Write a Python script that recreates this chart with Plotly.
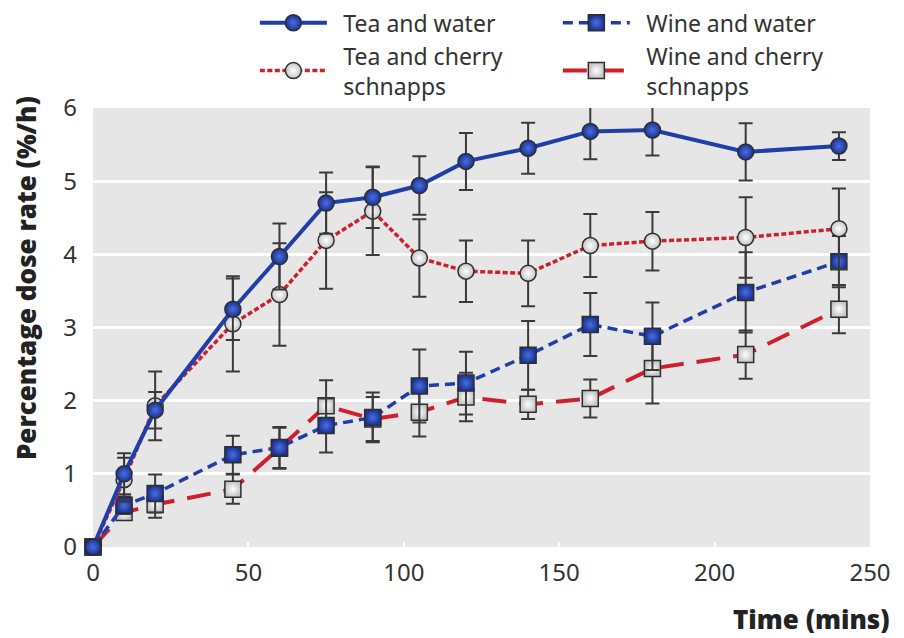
import plotly.graph_objects as go

time = [0, 10, 20, 45, 60, 75, 90, 105, 120, 140, 160, 180, 210, 240]

tea_water = [0, 1.00, 1.87, 3.25, 3.97, 4.70, 4.78, 4.94, 5.27, 5.45, 5.68, 5.70, 5.40, 5.48]
tea_water_err = [0, 0.28, 0.25, 0.42, 0.45, 0.42, 0.42, 0.40, 0.39, 0.35, 0.38, 0.35, 0.39, 0.19]

tea_cherry = [0, 0.92, 1.93, 3.05, 3.45, 4.19, 4.59, 3.95, 3.77, 3.74, 4.12, 4.18, 4.23, 4.35]
tea_cherry_err = [0, 0.30, 0.47, 0.65, 0.70, 0.66, 0.60, 0.53, 0.42, 0.45, 0.43, 0.40, 0.55, 0.55]

wine_water = [0, 0.57, 0.73, 1.26, 1.36, 1.66, 1.77, 2.20, 2.24, 2.62, 3.04, 2.88, 3.48, 3.90]
wine_water_err = [0, 0.12, 0.26, 0.26, 0.28, 0.37, 0.34, 0.50, 0.43, 0.47, 0.43, 0.46, 0.55, 0.35]

wine_cherry = [0, 0.47, 0.58, 0.79, 1.35, 1.93, 1.75, 1.84, 2.05, 1.95, 2.03, 2.44, 2.63, 3.25]
wine_cherry_err = [0, 0.10, 0.18, 0.20, 0.28, 0.35, 0.30, 0.33, 0.33, 0.20, 0.26, 0.48, 0.33, 0.33]

x_ticks = [0, 50, 100, 150, 200, 250]
y_ticks = [0, 1, 2, 3, 4, 5, 6]

BLUE = "#1f3ea8"
RED = "#d01f2c"
ERR = "#3a3a3a"
OUTLINE = "#2e2e2e"
SP = "\u2002"

def err(vals):
    return dict(type="data", array=vals, color=ERR, thickness=2, width=7, visible=True)

fig = go.Figure()

# (name, values, errors, line colour, dash, symbol, edge fill, centre fill, width, legend rank, size)
series = [
    ("Wine and cherry<br>schnapps", wine_cherry, wine_cherry_err, RED, "24px,13px", "square",
     "#c4c4c4", "#ffffff", 4, 4, 16),
    ("Wine and water", wine_water, wine_water_err, BLUE, "10px,6px", "square",
     "#1a3396", "#4a6ee0", 3.5, 2, 16),
    ("Tea and cherry<br>schnapps", tea_cherry, tea_cherry_err, RED, "5px,2.5px", "circle",
     "#c4c4c4", "#ffffff", 3.5, 3, 16),
    ("Tea and water", tea_water, tea_water_err, BLUE, "solid", "circle",
     "#1a3396", "#4a6ee0", 4, 1, 16),
]

for name, y, e, col, dash, sym, edge, centre, lw, rank, msize in series:
    label = SP + name.replace("<br>", "<br>" + SP)
    fig.add_trace(go.Scatter(
        x=time, y=y, name=label, mode="lines+markers",
        line=dict(color=col, width=lw, dash=dash),
        marker=dict(symbol=sym, size=msize, color=edge,
                    gradient=dict(type="radial", color=centre),
                    line=dict(color=OUTLINE, width=1.5)),
        error_y=err(e),
        cliponaxis=False,
        legendrank=rank,
    ))

fig.update_layout(
    width=896, height=630,
    margin=dict(l=85, r=34, t=100, b=91, autoexpand=False),
    paper_bgcolor="white",
    plot_bgcolor="#e6e6e6",
    font=dict(family="Noto Sans, Lato, sans-serif", color="#333333"),
    showlegend=True,
    legend=dict(
        orientation="h", xref="container", yref="paper",
        x=0.2755, y=1.243, xanchor="left", yanchor="top",
        entrywidth=221, entrywidthmode="pixels",
        itemwidth=67, bgcolor="rgba(0,0,0,0)",
        font=dict(size=23, color="#333333", family="Noto Sans, sans-serif"),
        tracegroupgap=0,
    ),
    xaxis=dict(
        range=[0, 250], tickvals=x_ticks, showgrid=False, zeroline=False,
        ticks="inside", ticklen=5, tickwidth=2, tickcolor="white",
        ticklabelstandoff=9,
        tickfont=dict(size=24, color="#333333"), showline=False,
    ),
    yaxis=dict(
        range=[0, 6], tickvals=y_ticks, showgrid=True, gridcolor="white", gridwidth=3,
        zeroline=False, showline=False, ticks="",
        ticklabelstandoff=15,
        tickfont=dict(size=24, color="#333333"),
    ),
    annotations=[
        dict(text="Percentage dose rate (%/h)", xref="paper", yref="paper",
             x=-0.086, y=0.613, textangle=-90, showarrow=False, xanchor="center", yanchor="middle",
             font=dict(size=26, color="#222222", family="Open Sans, Noto Sans, sans-serif",
                       weight=800)),
        dict(text="Time (mins)", xref="paper", yref="paper",
             x=1.028, y=-0.165, showarrow=False, xanchor="right", yanchor="middle",
             font=dict(size=26, color="#222222", family="Open Sans, Noto Sans, sans-serif",
                       weight=800)),
    ],
)

fig.write_html("out.html")
